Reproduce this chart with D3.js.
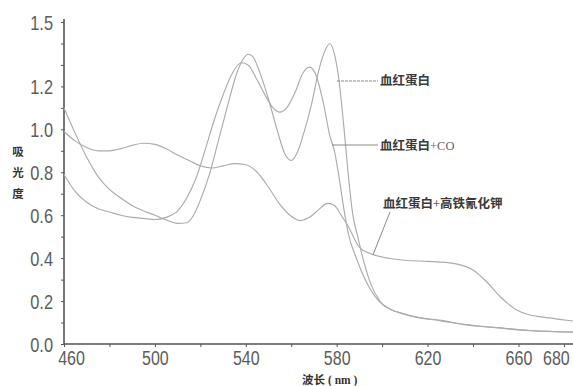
<!DOCTYPE html>
<html>
<head>
<meta charset="utf-8">
<script src="https://cdn.jsdelivr.net/npm/d3@7"></script>
<style>
  body { margin: 0; background: #fff; }
  svg { display: block; }
</style>
</head>
<body>
<div id="chart"></div>
<script>
// absorbance spectra
const oxyNm  = [460, 465, 470, 475, 480, 485, 490, 495, 500, 505, 510, 514, 517, 520, 524, 528, 532, 536, 539, 541, 543, 546, 550, 554, 557, 560, 563, 566, 569, 572, 575, 577, 579, 581, 583, 585, 587, 589.5, 592, 595, 599, 604, 608, 615, 626, 636, 651, 665, 684];
const oxyAbs = [1.10, 0.98, 0.87, 0.78, 0.72, 0.68, 0.645, 0.62, 0.60, 0.578, 0.562, 0.565, 0.60, 0.67, 0.79, 0.95, 1.11, 1.26, 1.33, 1.35, 1.34, 1.27, 1.14, 0.99, 0.89, 0.855, 0.90, 1.00, 1.12, 1.27, 1.37, 1.40, 1.35, 1.23, 1.03, 0.80, 0.61, 0.49, 0.38, 0.28, 0.20, 0.16, 0.145, 0.125, 0.108, 0.09, 0.075, 0.062, 0.055];

const coNm  = [460, 465, 470, 475, 480, 485, 490, 495, 500, 505, 510, 514, 518, 522, 526, 530, 534, 538, 541, 545, 549, 552, 555, 558, 562, 565, 568, 571, 574, 577, 579, 581, 583, 585, 589, 594, 599, 604, 608, 615, 626, 636, 651, 665, 684];
const coAbs = [0.79, 0.71, 0.66, 0.63, 0.615, 0.60, 0.59, 0.585, 0.58, 0.59, 0.62, 0.68, 0.77, 0.90, 1.04, 1.16, 1.26, 1.31, 1.30, 1.23, 1.15, 1.10, 1.08, 1.10, 1.18, 1.26, 1.29, 1.25, 1.13, 0.97, 0.90, 0.78, 0.64, 0.52, 0.39, 0.27, 0.195, 0.16, 0.145, 0.125, 0.11, 0.092, 0.076, 0.063, 0.056];

const metNm  = [460, 465, 470, 475, 480, 485, 490, 495, 500, 505, 510, 515, 520, 525, 530, 535, 540, 545, 550, 555, 560, 564, 568, 572, 576, 579, 582, 585, 590, 595, 600, 610, 620, 628, 634, 640, 646, 652, 659, 665, 671, 678, 684];
const metAbs = [0.99, 0.945, 0.915, 0.90, 0.90, 0.91, 0.925, 0.935, 0.93, 0.91, 0.88, 0.855, 0.83, 0.82, 0.83, 0.84, 0.835, 0.80, 0.73, 0.65, 0.595, 0.575, 0.59, 0.625, 0.655, 0.645, 0.60, 0.55, 0.45, 0.42, 0.405, 0.39, 0.385, 0.38, 0.37, 0.345, 0.29, 0.22, 0.16, 0.135, 0.125, 0.115, 0.107];

const xTicks = [460, 500, 540, 580, 620, 660, 680];
const xMinor = [460, 480, 500, 520, 540, 560, 580, 600, 620, 640, 660, 680];
const yTicks = [0, 0.2, 0.4, 0.6, 0.8, 1.0, 1.2, 1.5];
const yMinor = [0, 0.1, 0.2, 0.3, 0.4, 0.5, 0.6, 0.7, 0.8, 0.9, 1.0, 1.1, 1.2, 1.3, 1.4, 1.5];

const seriesNames = ['血红蛋白', '血红蛋白+CO', '血红蛋白+高铁氰化钾'];
const yTitle = ['吸', '光', '度'];

const width = 573, height = 386;

const svg = d3.select('#chart')
    .append('svg')
    .attr('width', width)
    .attr('height', height);

const x = d3.scaleLinear().domain([460, 684]).range([64, 573]);
const y = d3.scaleLinear().domain([0, 1.5]).range([344, 22]);

const axisColor = '#555';
const labelColor = '#5c5c5c';
const lineColor = '#ababab';

// squeeze the numbers sideways, they look condensed in the source
function condense(sel, k) {
    sel.each(function () {
        const t = d3.select(this);
        const x0 = +t.attr('x') || 0;
        t.attr('x', x0 / k).attr('transform', `scale(${k},1)`);
    });
}

// minor ticks
svg.append('g')
    .attr('transform', `translate(0, ${y(0)})`)
    .call(d3.axisBottom(x).tickValues(xMinor).tickSize(3).tickFormat(''))
    .call(g => g.select('.domain').remove())
    .call(g => g.selectAll('line').attr('stroke', axisColor));

svg.append('g')
    .attr('transform', `translate(${x(460)}, 0)`)
    .call(d3.axisLeft(y).tickValues(yMinor).tickSize(3).tickFormat(''))
    .call(g => g.select('.domain').remove())
    .call(g => g.selectAll('line').attr('stroke', axisColor));

// x axis
const xAxis = svg.append('g')
    .attr('transform', `translate(0, ${y(0)})`)
    .call(d3.axisBottom(x).tickValues(xTicks).tickSize(0).tickPadding(9).tickFormat(d3.format('d')));
xAxis.select('.domain').attr('stroke', axisColor).attr('stroke-width', 1.6).attr('d', `M${x(460)},0H${width}`);
xAxis.selectAll('text')
    .attr('font-family', 'Liberation Sans, Arial, sans-serif')
    .attr('font-size', 20)
    .attr('fill', labelColor)
    .attr('dy', '0.62em')
    .call(condense, 0.8);
xAxis.selectAll('.tick').filter(d => d === 460).select('text').attr('x', 7 / 0.8);
xAxis.selectAll('.tick').filter(d => d === 680).select('text').attr('x', -8 / 0.8);

// y axis
const yAxis = svg.append('g')
    .attr('transform', `translate(${x(460)}, 0)`)
    .call(d3.axisLeft(y).tickValues(yTicks).tickSize(0).tickPadding(11).tickFormat(d3.format('.1f')));
yAxis.select('.domain').attr('stroke', axisColor).attr('stroke-width', 1.6).attr('d', `M0,${y(0)}V19`);
yAxis.selectAll('text')
    .attr('font-family', 'Liberation Sans, Arial, sans-serif')
    .attr('font-size', 20)
    .attr('fill', labelColor)
    .attr('dy', '0.36em')
    .call(condense, 0.82);

// curves
const line = d3.line()
    .x(d => x(d[0]))
    .y(d => y(d[1]))
    .curve(d3.curveMonotoneX);

const curves = [
    d3.zip(oxyNm, oxyAbs),
    d3.zip(coNm, coAbs),
    d3.zip(metNm, metAbs)
];

svg.append('g')
    .selectAll('path')
    .data(curves)
    .join('path')
    .attr('fill', 'none')
    .attr('stroke', lineColor)
    .attr('stroke-width', 1.15)
    .attr('d', line);

// labels with leader lines
const cjk = 'Noto Sans CJK SC, sans-serif';
const leaderColor = '#8a8a8a';

svg.append('line')
    .attr('x1', 337).attr('y1', 81).attr('x2', 378).attr('y2', 81)
    .attr('stroke', leaderColor).attr('stroke-width', 1).attr('stroke-dasharray', '3,1');
svg.append('line')
    .attr('x1', 332).attr('y1', 145).attr('x2', 378).attr('y2', 145)
    .attr('stroke', leaderColor).attr('stroke-width', 1);
svg.append('line')
    .attr('x1', x(596)).attr('y1', y(0.416)).attr('x2', 390).attr('y2', 212)
    .attr('stroke', leaderColor).attr('stroke-width', 1);

const notes = [
    { text: seriesNames[0], x: 380, y: 85 },
    { text: seriesNames[1], x: 380, y: 150 },
    { text: seriesNames[2], x: 383, y: 208 }
];

svg.append('g')
    .selectAll('text')
    .data(notes)
    .join('text')
    .attr('x', d => d.x)
    .attr('y', d => d.y)
    .attr('font-family', cjk)
    .attr('font-size', 12.5)
    .attr('font-weight', 'bold')
    .attr('fill', '#3a3a3a')
    .each(function (d) {
        const parts = d.text.split('+');
        const t = d3.select(this);
        t.append('tspan').text(parts[0]);
        if (parts.length > 1) {
            t.append('tspan').attr('font-weight', 'normal').attr('fill', '#666')
                .attr('font-family', parts[1] === 'CO' ? 'Liberation Serif, serif' : cjk)
                .text('+');
            t.append('tspan')
                .attr('font-family', parts[1] === 'CO' ? 'Liberation Serif, serif' : cjk)
                .attr('font-weight', parts[1] === 'CO' ? 'normal' : 'bold')
                .attr('fill', parts[1] === 'CO' ? '#666' : '#3a3a3a')
                .text(parts[1]);
        }
    });

// axis titles
svg.append('g')
    .selectAll('text')
    .data(yTitle)
    .join('text')
    .attr('x', 18)
    .attr('y', (d, i) => 156 + i * 21)
    .attr('text-anchor', 'middle')
    .attr('font-family', cjk)
    .attr('font-size', 11.5)
    .attr('font-weight', 'bold')
    .attr('fill', '#333')
    .text(d => d);

const xt = svg.append('text')
    .attr('x', 302)
    .attr('y', 384)
    .attr('font-family', cjk)
    .attr('font-size', 11.5)
    .attr('font-weight', 'bold')
    .attr('fill', '#333');
xt.append('tspan').text('波长');
xt.append('tspan').attr('font-family', 'Liberation Serif, serif').attr('dx', 3).text('( nm )');
</script>
</body>
</html>
